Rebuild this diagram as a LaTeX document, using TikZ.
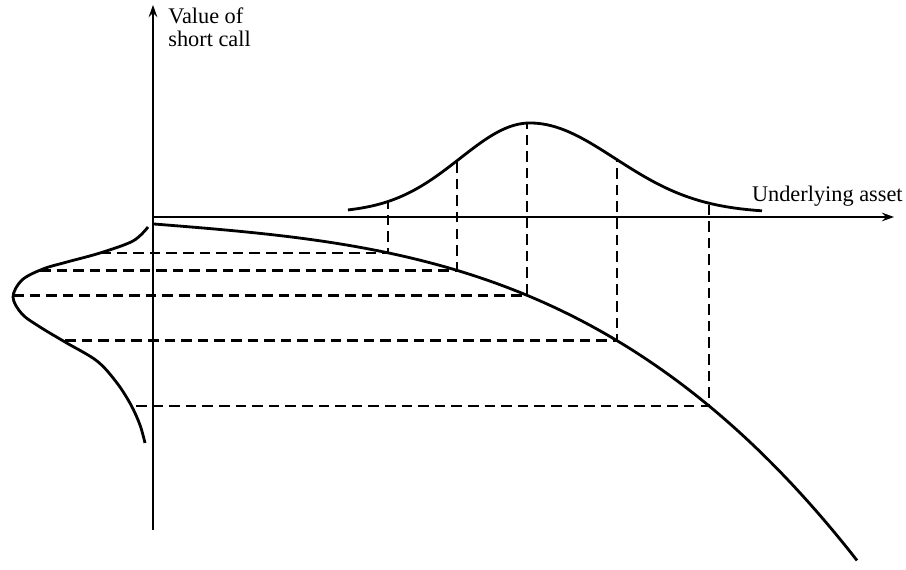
\documentclass[tikz,border=0pt]{standalone}
\usepackage{fontspec}
\setmainfont{Liberation Serif}
\usetikzlibrary{arrows.meta}

\begin{document}
\begin{tikzpicture}[
  x=0.02cm, y=-0.02cm,
  declare function={bell(\t)=213-90*exp(-0.5*((\t-530)/(70+15*(\t>530)))*((\t-530)/(70+15*(\t>530))));
    pay(\t)=224+8*((\t-154)/100)-0.06*((\t-154)/100)*((\t-154)/100)+0.815*((\t-154)/100)*((\t-154)/100)*((\t-154)/100);},
  crv/.style={line width=1.6pt},
  prj/.style={line width=1.45pt, dash pattern=on 6pt off 3.45pt},
  ax/.style={line width=0.75pt, -{Stealth[length=7pt,width=5pt,inset=2.5pt]}},
  lbl/.style={font=\fontsize{12.7}{13.6}\selectfont, align=left, inner sep=0pt}
]

\useasboundingbox (0,0) rectangle (906,570);

\coordinate (O) at (153,217);
\coordinate (ytop) at (153,5);
\coordinate (ybot) at (153,530);
\coordinate (xend) at (894,217);

\draw [ax] (ybot) -- (ytop);
\draw [ax] (O) -- (xend);

\node [lbl, anchor=north west] (vname) at (168,7) {Value of\\short call};
\node [lbl, anchor=base east] (sname) at (903,202) {Underlying asset};

% distribution of the asset price
\draw [crv] plot [domain=348:762, samples=120] (\x,{bell(\x)});

% value of the short call
\draw [crv] plot [domain=154:857, samples=120] (\x,{pay(\x)});

% distribution of the value
\draw [crv] plot [smooth, tension=0.55] coordinates {(148,227) (133,241) (100,253) (67,262)
  (43,269) (22,280) (13,297) (22,314) (40,327) (65,342) (97,361) (117,383) (131,405)
  (140,425) (145,443)};

\foreach \n/\x/\xl in {1/388/100, 2/457/40, 3/527/13, 4/617/65, 5/709/136} {
  \coordinate (b\n) at (\x,{bell(\x)});
  \coordinate (p\n) at (\x,{pay(\x)});
  \coordinate (c\n) at (\xl,0);
  \coordinate (d\n) at (c\n |- p\n);
  \draw [prj] (d\n) -- (p\n) -- (b\n);
}

\end{tikzpicture}
\end{document}
